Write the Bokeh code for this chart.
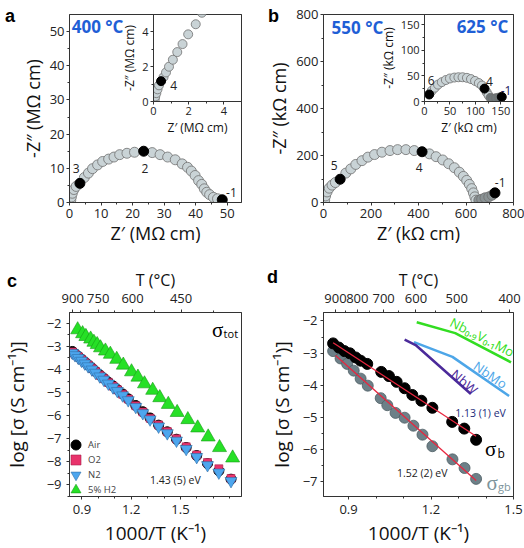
from bokeh.plotting import figure
from bokeh.models import Range1d, LinearAxis, FixedTicker, Label, Legend, LegendItem, GridBox, Div
from bokeh.embed import file_html
from bokeh.resources import INLINE

FONT = "Open Sans"
SERIF = "Liberation Serif"

# ---------------- data ----------------
# (a) 400 °C, Nyquist plot (MΩ cm)
a_zre = [0.4, 0.6, 0.9, 1.4, 2.1, 4.7, 6.0, 7.3, 8.9, 10.5, 12.4, 14.1, 15.9, 18.2, 20.6,
         26.2, 28.7, 31.1, 33.5, 35.7, 37.4, 38.6, 39.8, 40.9, 41.9, 42.7, 43.5, 44.4, 45.6, 46.9]
a_zim = [0.6, 1.6, 2.7, 3.8, 4.7, 7.3, 8.6, 9.9, 11.0, 12.0, 12.7, 13.3, 14.0, 14.4, 14.7,
         14.6, 14.0, 13.3, 12.5, 11.3, 10.3, 9.2, 7.9, 6.4, 5.3, 4.0, 3.0, 2.3, 1.5, 1.1]
a_dec_zre = [3.3, 23.5, 48.4]
a_dec_zim = [5.6, 15.0, 0.8]
a_dec_lbl = ["3", "2", "-1"]
# (a) inset
ai_zre = [0.05, 0.07, 0.10, 0.16, 0.23, 0.31, 0.57, 0.71, 0.88, 1.10, 1.35, 1.65, 1.97, 2.40, 2.75]
ai_zim = [0.0, 0.12, 0.29, 0.48, 0.70, 0.93, 1.40, 1.67, 2.00, 2.40, 2.84, 3.30, 3.86, 4.44, 5.10]
ai_dec_zre = [0.43]
ai_dec_zim = [1.17]
ai_dec_lbl = ["4"]

# (b) 550 °C, Nyquist plot (kΩ cm)
b_zre = [5, 9, 15, 24, 36, 50, 94, 115, 136, 162, 187, 215, 246, 280, 312, 347, 382,
         446, 474, 502, 527, 551, 572, 589, 603, 614, 624, 631, 637, 642]
b_zim = [10, 28, 45, 61, 74, 85, 125, 143, 162, 178, 193, 204, 214, 221, 225, 225, 221,
         207, 195, 181, 165, 148, 129, 111, 94, 77, 59, 41, 24, 10]
b_tail_zre = [654, 666, 680, 696, 710]
b_tail_zim = [10, 14, 20, 24, 31]
b_dec_zre = [70, 415, 722]
b_dec_zim = [99, 216, 41]
b_dec_lbl = ["5", "4", "-1"]
# (b) inset, 625 °C
bi_zre = [14.3, 20.4, 26.6, 34, 42, 50, 58.7, 66.7, 74.8, 83.4, 91.4, 99.4, 106.9, 113, 122.3, 126]
bi_zim = [21, 27, 33, 37.8, 42, 45, 46.8, 47.4, 47.4, 46.2, 43.8, 40.2, 36, 31.2, 18, 12]
bi_tail_zre = [129.7, 134.6, 140.8, 147]
bi_tail_zim = [7.2, 5.4, 6.6, 7.8]
bi_dec_zre = [9.3, 118, 151.9]
bi_dec_zim = [13.7, 25.2, 9]
bi_dec_lbl = ["6", "4", "-1"]

# (c) total conductivity, log sigma vs 1000/T
c_x = [0.842, 0.858, 0.878, 0.898, 0.918, 0.938, 0.961, 0.983, 1.009, 1.033, 1.061, 1.089, 1.116,
       1.148, 1.182, 1.228, 1.271, 1.315, 1.367, 1.420, 1.476, 1.535, 1.599, 1.665, 1.734, 1.808]
c_air = [-3.22, -3.32, -3.44, -3.56, -3.68, -3.80, -3.94, -4.08, -4.24, -4.38, -4.55, -4.71, -4.87,
         -5.06, -5.27, -5.56, -5.83, -6.10, -6.41, -6.70, -7.02, -7.38, -7.73, -8.08, -8.39, -8.75]
c_o2 = [-3.24, -3.34, -3.45, -3.57, -3.69, -3.81, -3.95, -4.09, -4.25, -4.39, -4.56, -4.72, -4.88,
        -5.07, -5.28, -5.57, -5.84, -6.11, -6.40, -6.69, -7.00, -7.35, -7.70, -8.03, -8.30, -8.72]
c_n2 = [-3.28, -3.38, -3.50, -3.62, -3.74, -3.86, -4.00, -4.14, -4.30, -4.44, -4.61, -4.77, -4.93,
        -5.12, -5.33, -5.62, -5.89, -6.16, -6.47, -6.76, -7.08, -7.44, -7.79, -8.14, -8.46, -8.83]
c_h2_x = [0.874, 0.904, 0.924, 0.953, 0.973, 0.993, 1.013, 1.043, 1.073, 1.112, 1.152, 1.202,
          1.241, 1.281, 1.331, 1.374, 1.426, 1.480, 1.545, 1.605, 1.669, 1.738, 1.818]
c_h2 = [-2.28, -2.45, -2.57, -2.68, -2.82, -2.92, -3.06, -3.20, -3.34, -3.56, -3.81, -4.10,
        -4.33, -4.62, -4.90, -5.22, -5.51, -5.86, -6.17, -6.53, -6.92, -7.38, -7.83]
c_series = ["Air", "O2", "N2", "5% H2"]

# (d) bulk and grain-boundary conductivity
d_b_x = [0.844, 0.865, 0.885, 0.905, 0.926, 0.944, 0.968, 1.019, 1.047, 1.075, 1.104, 1.132,
         1.165, 1.205, 1.277, 1.321, 1.364]
d_b_y = [-2.70, -2.83, -2.94, -3.01, -3.14, -3.24, -3.34, -3.59, -3.72, -3.90, -4.10, -4.31,
         -4.49, -4.71, -5.15, -5.36, -5.71]
d_gb_x = [0.844, 0.871, 0.895, 0.919, 0.944, 0.970, 1.017, 1.041, 1.071, 1.104, 1.136, 1.169,
          1.205, 1.278, 1.322, 1.364]
d_gb_y = [-2.94, -3.17, -3.34, -3.55, -3.80, -4.02, -4.41, -4.63, -4.87, -5.02, -5.27, -5.55,
          -5.91, -6.32, -6.59, -6.93]
d_bfit_x = [0.844, 1.364]
d_bfit_y = [-2.68, -5.60]
d_gbfit_x = [0.853, 1.364]
d_gbfit_y = [-3.08, -6.98]
nbv_x = [1.148, 1.288, 1.491]
nbv_y = [-2.04, -2.38, -3.29]
nbmo_x = [1.138, 1.278, 1.484]
nbmo_y = [-2.66, -3.12, -4.34]
nbw_x = [1.104, 1.144, 1.345]
nbw_y = [-2.58, -2.75, -4.28]

# top-axis temperature labels (°C)
c_top_T = [900, 750, 600, 450]
c_top_T_minor = [850, 675, 525, 375]
d_top_T = [900, 800, 700, 600, 500, 400]
d_top_T_minor = [850, 750, 650, 550, 450]

# ---------------- styling helpers ----------------
GRAY_FILL = "#c9d3d6"
GRAY_LINE = "#707070"
BLUE_T = "#1f5fd6"


def make_fig(width, height, xr, yr, l, r, t, b, transparent=False):
    p = figure(width=width, height=height, x_range=Range1d(*xr), y_range=Range1d(*yr),
               output_backend="svg", toolbar_location=None,
               min_border_left=l, min_border_right=r, min_border_top=t, min_border_bottom=b)
    p.grid.visible = False
    p.outline_line_color = "#333333"
    p.outline_line_width = 1
    p.background_fill_color = "white"
    if transparent:
        p.border_fill_alpha = 0
    return p


def style_axis(ax, tick_size, label_size, tick_standoff, label_standoff):
    ax.major_label_text_font = FONT
    ax.major_label_text_font_size = tick_size
    ax.major_label_text_color = "#222222"
    ax.axis_label_text_font = FONT
    ax.axis_label_text_font_size = label_size
    ax.axis_label_text_font_style = "normal"
    ax.axis_label_text_color = "#111111"
    ax.axis_line_color = "#333333"
    ax.major_tick_line_color = "#333333"
    ax.minor_tick_line_color = "#333333"
    ax.major_tick_in = 0
    ax.major_tick_out = 3
    ax.minor_tick_in = 0
    ax.minor_tick_out = 2
    ax.major_label_standoff = tick_standoff
    ax.axis_label_standoff = label_standoff


def txt(p, x, y, s, size="12px", color="#222222", bold=False, font=FONT, align="center",
        baseline="middle", angle=0.0):
    p.add_layout(Label(x=x, y=y, text=s, text_font=font, text_font_size=size, text_color=color,
                       text_font_style="bold" if bold else "normal", text_align=align,
                       text_baseline=baseline, angle=angle))


def nyquist(p, xs, ys, size, fill=GRAY_FILL):
    p.scatter(xs, ys, marker="circle", size=size, fill_color=fill, line_color=GRAY_LINE, line_width=0.8)


def decades(p, xs, ys, size):
    p.scatter(xs, ys, marker="circle", size=size, fill_color="black", line_color="black")


def letter(ch, dx, dy):
    html = ('<div style="position:relative; left:%dpx; top:%dpx; font-family:\'Liberation Sans\'; '
            'font-size:18px; font-weight:bold; line-height:18px; color:#000;">%s</div>' % (dx, dy, ch))
    return Div(text=html, width=24, height=26)


# ---------------- panel a ----------------
pa = make_fig(262, 265, (0, 54.5), (0, 55), 52, 21, 14, 63)
pa.xaxis.ticker = FixedTicker(ticks=[0, 10, 20, 30, 40, 50], minor_ticks=[5, 15, 25, 35, 45])
pa.yaxis.ticker = FixedTicker(ticks=[0, 10, 20, 30, 40, 50], minor_ticks=[5, 15, 25, 35, 45])
pa.xaxis.axis_label = "Z\u2032 (M\u03a9 cm)"
pa.yaxis.axis_label = "-Z\u2033 (M\u03a9 cm)"
style_axis(pa.xaxis[0], "13px", "18px", 3, 0)
style_axis(pa.yaxis[0], "13px", "18px", 2, 2)
nyquist(pa, a_zre, a_zim, 10)
decades(pa, a_dec_zre, a_dec_zim, 10)
txt(pa, 8.9, 51.5, "400 \u00b0C", size="17px", color=BLUE_T, bold=True)
txt(pa, 2.1, 9.9, a_dec_lbl[0])
txt(pa, 23.9, 9.9, a_dec_lbl[1])
txt(pa, 51.3, 3.0, a_dec_lbl[2])

pai = make_fig(126, 124, (0, 5), (0, 5), 28, 3, 0, 30, transparent=True)
pai.xaxis.ticker = FixedTicker(ticks=[0, 2, 4], minor_ticks=[1, 3, 5])
pai.yaxis.ticker = FixedTicker(ticks=[0, 2, 4], minor_ticks=[1, 3, 5])
pai.xaxis.axis_label = "Z\u2032 (M\u03a9 cm)"
pai.yaxis.axis_label = "-Z\u2033 (M\u03a9 cm)"
style_axis(pai.xaxis[0], "11px", "12px", 2, 1)
style_axis(pai.yaxis[0], "11px", "12px", 2, 1)
nyquist(pai, ai_zre, ai_zim, 9)
decades(pai, ai_dec_zre, ai_dec_zim, 9)
txt(pai, 1.14, 0.92, ai_dec_lbl[0])

# ---------------- panel b ----------------
pb = make_fig(262, 265, (0, 800), (0, 800), 61, 11, 14, 63)
pb.xaxis.ticker = FixedTicker(ticks=[0, 200, 400, 600, 800], minor_ticks=[100, 300, 500, 700])
pb.yaxis.ticker = FixedTicker(ticks=[0, 200, 400, 600, 800], minor_ticks=[100, 300, 500, 700])
pb.xaxis.axis_label = "Z\u2032 (k\u03a9 cm)"
pb.yaxis.axis_label = "-Z\u2033 (k\u03a9 cm)"
style_axis(pb.xaxis[0], "13px", "18px", 3, 0)
style_axis(pb.yaxis[0], "13px", "18px", 2, 2)
nyquist(pb, b_zre, b_zim, 10)
nyquist(pb, b_tail_zre, b_tail_zim, 10, fill="#8a9294")
decades(pb, b_dec_zre, b_dec_zim, 10)
txt(pb, 143, 746, "550 \u00b0C", size="17px", color=BLUE_T, bold=True)
txt(pb, 45, 157, b_dec_lbl[0])
txt(pb, 403, 150, b_dec_lbl[1])
txt(pb, 744, 86, b_dec_lbl[2])

pbi = make_fig(139, 124, (0, 175), (0, 170), 42, 2, 0, 30, transparent=True)
pbi.xaxis.ticker = FixedTicker(ticks=[0, 50, 100, 150], minor_ticks=[25, 75, 125])
pbi.yaxis.ticker = FixedTicker(ticks=[0, 50, 100, 150], minor_ticks=[25, 75, 125])
pbi.xaxis.axis_label = "Z\u2032 (k\u03a9 cm)"
pbi.yaxis.axis_label = "-Z\u2033 (k\u03a9 cm)"
style_axis(pbi.xaxis[0], "11px", "12px", 2, 1)
style_axis(pbi.yaxis[0], "11px", "12px", 2, 1)
nyquist(pbi, bi_zre, bi_zim, 9)
nyquist(pbi, bi_tail_zre, bi_tail_zim, 9, fill="#6f7779")
decades(pbi, bi_dec_zre, bi_dec_zim, 9)
txt(pbi, 114, 147, "625 \u00b0C", size="17px", color=BLUE_T, bold=True)
txt(pbi, 12.9, 41.6, bi_dec_lbl[0])
txt(pbi, 127.6, 39.8, bi_dec_lbl[1])
txt(pbi, 160.3, 21.7, bi_dec_lbl[2], color="#1c1c5c")


# ---------------- panels c, d: top temperature axis ----------------
def top_axis(p, rng, temps, minor_temps):
    p.extra_x_ranges = {"top": Range1d(*rng)}
    ticks = [1000.0 / (t + 273.15) for t in temps]
    minors = [1000.0 / (t + 273.15) for t in minor_temps]
    ax = LinearAxis(x_range_name="top", axis_label="T (\u00b0C)",
                    ticker=FixedTicker(ticks=ticks, minor_ticks=minors),
                    major_label_overrides={k: str(t) for k, t in zip(ticks, temps)})
    style_axis(ax, "13px", "16px", 7, 0)
    p.add_layout(ax, "above")


def one_legend(p, label, rend, y_off):
    leg = Legend(items=[LegendItem(label=label, renderers=[rend])],
                 location=(-6, y_off), glyph_width=25, glyph_height=25, label_height=25, spacing=0,
                 label_standoff=-4, padding=0, margin=0, label_text_font=FONT,
                 label_text_font_size="9.5px", background_fill_alpha=0, border_line_alpha=0)
    p.add_layout(leg)


# ---------------- panel c ----------------
pc = make_fig(262, 283, (0.8243, 1.8719), (-9.5, -1.533), 65, 21, 47, 48)
pc.xaxis.ticker = FixedTicker(ticks=[0.9, 1.2, 1.5], minor_ticks=[0.8, 1.0, 1.1, 1.3, 1.4, 1.6, 1.7, 1.8])
pc.yaxis.ticker = FixedTicker(ticks=[-2, -3, -4, -5, -6, -7, -8, -9],
                              minor_ticks=[-2.5, -3.5, -4.5, -5.5, -6.5, -7.5, -8.5, -9.5])
pc.xaxis.axis_label = "1000/T (K\u207b\u00b9)"
pc.yaxis.axis_label = "log [\u03c3 (S cm\u207b\u00b9)]"
style_axis(pc.xaxis[0], "13px", "19px", 5, 3)
style_axis(pc.yaxis[0], "13px", "19px", 5, 14)
top_axis(pc, (0.8366, 1.6785), c_top_T, c_top_T_minor)
r_air = pc.scatter(c_x, c_air, marker="circle", size=10, fill_color="black", line_color="black")
r_o2 = pc.scatter(c_x, c_o2, marker="square", size=8, fill_color="#e8336b", line_color="#a8204a", line_width=0.6)
r_n2 = pc.scatter(c_x, c_n2, marker="inverted_triangle", size=12, fill_color="#4da6ee",
                  line_color="#2f6fa8", line_width=0.6)
r_h2 = pc.scatter(c_h2_x, c_h2, marker="triangle", size=14, fill_color="#26e026",
                  line_color="#169a16", line_width=0.6)
one_legend(pc, c_series[0], r_air, 39)
one_legend(pc, c_series[1], r_o2, 24)
one_legend(pc, c_series[2], r_n2, 9)
one_legend(pc, c_series[3], r_h2, -6)
txt(pc, 1.726, -2.296, "\u03c3", size="21px", color="black", font=SERIF)
txt(pc, 1.763, -2.46, "tot", size="11px", color="black", align="left")
txt(pc, 1.469, -8.766, "1.43 (5) eV", size="10.5px", color="#222222")

# ---------------- panel d ----------------
pd = make_fig(262, 283, (0.809, 1.5), (-7.48, -1.735), 61, 11, 47, 48)
pd.xaxis.ticker = FixedTicker(ticks=[0.9, 1.2, 1.5], minor_ticks=[0.8, 1.0, 1.1, 1.3, 1.4])
pd.yaxis.ticker = FixedTicker(ticks=[-2, -3, -4, -5, -6, -7], minor_ticks=[-2.5, -3.5, -4.5, -5.5, -6.5, -7.5])
pd.xaxis.axis_label = "1000/T (K\u207b\u00b9)"
pd.yaxis.axis_label = "log [\u03c3 (S cm\u207b\u00b9)]"
style_axis(pd.xaxis[0], "13px", "19px", 5, 3)
style_axis(pd.yaxis[0], "13px", "19px", 3, 5)
top_axis(pd, (0.809, 1.5), d_top_T, d_top_T_minor)
pd.line(nbv_x, nbv_y, line_color="#33dd22", line_width=2.5)
pd.line(nbmo_x, nbmo_y, line_color="#4da6e8", line_width=2.5)
pd.line(nbw_x, nbw_y, line_color="#4b2a9a", line_width=2.5)
pd.scatter(d_gb_x, d_gb_y, marker="circle", size=11, fill_color="#6d8088", line_color="#4d5d63", line_width=0.8)
pd.scatter(d_b_x, d_b_y, marker="circle", size=11, fill_color="black", line_color="black")
pd.line(d_bfit_x, d_bfit_y, line_color="#e8263f", line_width=1.3)
pd.line(d_gbfit_x, d_gbfit_y, line_color="#e8263f", line_width=1.3)
txt(pd, 1.386, -2.50, "Nb\u2080.\u2089V\u2080.\u2081Mo", size="13px", color="#33dd22", angle=-0.47)
txt(pd, 1.416, -3.680, "NbMo", size="13px", color="#4da6e8", angle=-0.6)
txt(pd, 1.322, -3.900, "NbW", size="13px", color="#4b2a9a", angle=-0.72)
txt(pd, 1.380, -4.862, "1.13 (1) eV", size="10.5px", color="#232b7a")
txt(pd, 1.168, -6.747, "1.52 (2) eV", size="10.5px", color="#222222")
txt(pd, 1.417, -6.004, "\u03c3", size="21px", color="black", font=SERIF)
txt(pd, 1.4418, -6.13, "b", size="12px", color="black", align="left")
txt(pd, 1.422, -7.053, "\u03c3", size="21px", color="#7d949b", font=SERIF)
txt(pd, 1.4436, -7.175, "gb", size="11px", color="#7d949b", align="left")

# ---------------- layout ----------------
grid = GridBox(children=[(pa, 0, 0, 3, 3), (pb, 0, 3, 3, 3), (pc, 3, 0, 1, 3), (pd, 3, 3, 1, 3),
                         (pai, 1, 1, 1, 1), (pbi, 1, 4, 1, 1),
                         (letter("a", 0, 2), 0, 0, 2, 1), (letter("b", 1, 2), 0, 3, 2, 1),
                         (letter("c", 2, 2), 3, 0, 1, 1), (letter("d", 0, -2), 3, 3, 1, 1)],
               rows=["14px", "124px", "127px", "283px"],
               cols=["118px", "126px", "18px", "114px", "139px", "9px"], spacing=0)

open("out.html", "w").write(file_html(grid, INLINE))
